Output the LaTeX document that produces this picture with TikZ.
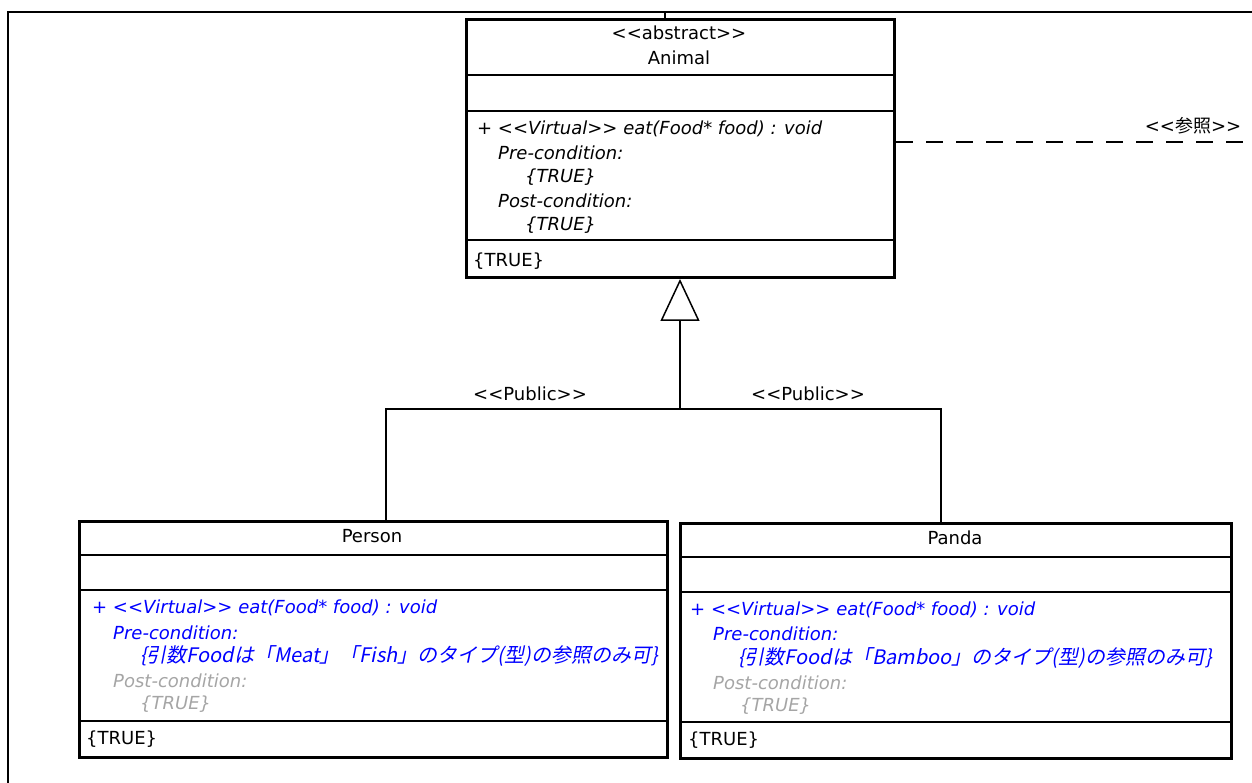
\documentclass[tikz,border=0pt]{standalone}
\usepackage{fontspec}
\setmainfont{DejaVu Sans}
\newfontfamily\jpfont{Noto Sans CJK JP}
\newfontfamily\jpslant{Noto Sans CJK JP}[FakeSlant=0.2]
\usetikzlibrary{arrows.meta}

\definecolor{opblue}{RGB}{0,0,255}
\definecolor{postgrey}{RGB}{165,165,165}

% guillemet-free stereotype brackets
\newcommand\stlt{<\kern0pt<}
\newcommand\stgt{>\kern0pt>}

\tikzset{
  umlbox/.style={draw, line width=3pt, inner sep=0pt, anchor=north west},
  divider/.style={line width=2.8pt},
  txt/.style={inner sep=0pt, anchor=west, text height=13pt, text depth=4pt,
              font=\fontsize{18}{22}\selectfont},
  centre/.style={txt, anchor=center},
  op/.style={txt, font=\fontsize{18}{22}\selectfont\itshape},
  blueop/.style={op, text=opblue},
  postop/.style={op, text=postgrey},
  jpop/.style={blueop, font=\fontsize{20}{24}\selectfont\jpslant},
  conn/.style={line width=1.5pt},
  refline/.style={conn, dash pattern=on 17pt off 13pt},
  frame/.style={line width=2.6pt},
}

\begin{document}
\begin{tikzpicture}[x=1pt, y=-1pt]
  \useasboundingbox (0,0) rectangle (1252,783);

  % page frame
  \draw[frame] (8,783) -- (8,12) -- (1252,12);

  % ---------- Animal ----------
  \node[umlbox, minimum width=428pt, minimum height=258pt] (animal) at (465,18) {};
  \draw[divider] (animal.west |- 0,75)  -- (animal.east |- 0,75);
  \draw[divider] (animal.west |- 0,111) -- (animal.east |- 0,111);
  \draw[divider] (animal.west |- 0,240) -- (animal.east |- 0,240);
  \node[centre] (aster) at (679,35) {\stlt abstract\stgt};
  \node[centre] (aname) at (679,60) {Animal};
  \node[op] (aop)   at (477,130) {+ \stlt Virtual\stgt\ eat(Food* food) : void};
  \node[op] (apre)  at (498,155) {Pre-condition:};
  \node[op] (aprev) at (525,178) {\{TRUE\}};
  \node[op] (apost) at (498,203) {Post-condition:};
  \node[op] (apostv) at (525,226) {\{TRUE\}};
  \node[txt] (ainv) at (473,262) {\{TRUE\}};

  % ---------- Person ----------
  \node[umlbox, minimum width=588pt, minimum height=236pt] (person) at (78,520) {};
  \draw[divider] (person.west |- 0,555) -- (person.east |- 0,555);
  \draw[divider] (person.west |- 0,590) -- (person.east |- 0,590);
  \draw[divider] (person.west |- 0,721) -- (person.east |- 0,721);
  \node[centre] (pname) at (372,538) {Person};
  \node[blueop] (pop)   at (92,609)  {+ \stlt Virtual\stgt\ eat(Food* food) : void};
  \node[blueop] (ppre)  at (113,635) {Pre-condition:};
  \node[jpop]   (pprev) at (140,658) {\{引数Foodは「Meat」「Fish」のタイプ(型)の参照のみ可\}};
  \node[postop] (ppost) at (113,683) {Post-condition:};
  \node[postop] (ppostv) at (140,705) {\{TRUE\}};
  \node[txt] (pinv) at (86,740) {\{TRUE\}};

  % ---------- Panda ----------
  \node[umlbox, minimum width=551pt, minimum height=235pt] (panda) at (679,522) {};
  \draw[divider] (panda.west |- 0,557) -- (panda.east |- 0,557);
  \draw[divider] (panda.west |- 0,592) -- (panda.east |- 0,592);
  \draw[divider] (panda.west |- 0,722) -- (panda.east |- 0,722);
  \node[centre] (dname) at (955,540) {Panda};
  \node[blueop] (dop)   at (690,611) {+ \stlt Virtual\stgt\ eat(Food* food) : void};
  \node[blueop] (dpre)  at (713,636) {Pre-condition:};
  \node[jpop]   (dprev) at (738,660) {\{引数Foodは「Bamboo」のタイプ(型)の参照のみ可\}};
  \node[postop] (dpost) at (713,685) {Post-condition:};
  \node[postop] (dpostv) at (740,707) {\{TRUE\}};
  \node[txt] (dinv) at (688,741) {\{TRUE\}};

  % ---------- connectors ----------
  % edge leaving the top of Animal
  \coordinate (topend) at (665,12);
  \draw[conn] (animal.north -| topend) -- (topend);

  % dependency to the right
  \coordinate (refend) at (1252,142);
  \draw[refline] (animal.east |- refend) -- (refend);
  \node[centre] (reflabel) at (1193,128) {\stlt{\jpfont 参照}\stgt};

  % generalization tree
  \coordinate (junc) at (680,409);
  \coordinate (pc) at (386,409);
  \coordinate (dc) at (941,409);
  \draw[conn, -{Triangle[open, length=42pt, width=39pt, line width=1.5pt]}]
    (junc) -- (junc |- animal.south);
  \draw[conn] (person.north -| pc) -- (pc) -- (dc) -- (panda.north -| dc);
  \node[centre] (plabel) at (530,396) {\stlt Public\stgt};
  \node[centre] (dlabel) at (808,396) {\stlt Public\stgt};
\end{tikzpicture}
\end{document}
